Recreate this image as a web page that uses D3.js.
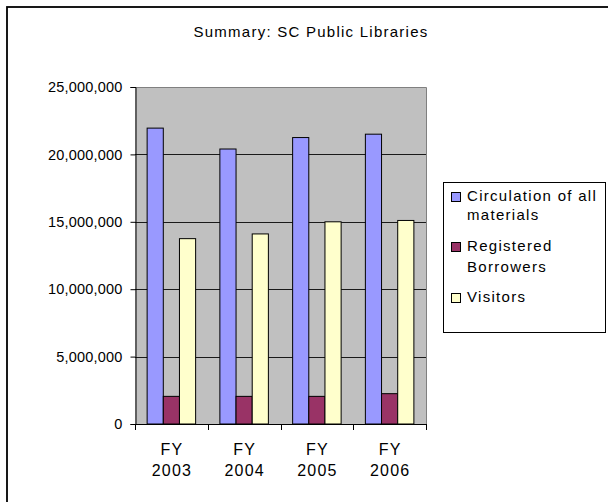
<!DOCTYPE html>
<html><head><meta charset="utf-8">
<script src="https://cdn.jsdelivr.net/npm/d3@7"></script>
<style>body{margin:0;background:#fff}svg{display:block}text{font-family:"Liberation Sans",Arial,sans-serif;fill:#000}</style>
</head><body><svg id="c" width="608" height="502"></svg>
<script>
const categories = ["FY 2003", "FY 2004", "FY 2005", "FY 2006"];
const seriesNames = ["Circulation of all materials", "Registered Borrowers", "Visitors"];
const circulation = [21950000, 20400000, 21250000, 21500000];
const borrowers = [2050000, 2050000, 2050000, 2250000];
const visitors = [13750000, 14100000, 15000000, 15100000];
const yTicks = [0, 5000000, 10000000, 15000000, 20000000, 25000000];
const colors = ["#9999FF", "#993366", "#FFFFCC"];
const legendLines = [["Circulation of all", "materials"], ["Registered", "Borrowers"], ["Visitors"]];

const series = [circulation, borrowers, visitors];
const svg = d3.select("#c");

// outer chart border (extends beyond window, cropped like the reference)
svg.append("rect").attr("x", 7).attr("y", 7).attr("width", 640).attr("height", 540)
  .attr("fill", "#fff").attr("stroke", "#000").attr("stroke-width", 1.8);

const L = 135, R = 426, T = 87, B = 424;
const x = d3.scaleBand().domain(categories).range([L, R]);
const gw = x.bandwidth();
const x1 = d3.scaleBand().domain(d3.range(3)).range([gw / 6, gw * 5 / 6]);
const y = d3.scaleLinear().domain([0, 25000000]).range([B, T]);

svg.append("rect").attr("x", L).attr("y", T).attr("width", R - L).attr("height", B - T).attr("fill", "#C0C0C0");

// gridlines
svg.append("g").selectAll("line").data(yTicks.filter(d => d > 0 && d < 25000000)).join("line")
  .attr("x1", L).attr("x2", R).attr("y1", d => Math.round(y(d)) + 0.5).attr("y2", d => Math.round(y(d)) + 0.5)
  .attr("stroke", "#1a1a1a").attr("stroke-width", 1);
// plot border top/right
svg.append("path").attr("d", `M${L},${T + 0.5}H${R + 0.5}V${B}`).attr("fill", "none").attr("stroke", "#808080");

// bars
const g = svg.append("g");
categories.forEach((c, i) => {
  series.forEach((s, j) => {
    g.append("rect")
      .attr("x", x(c) + x1(j)).attr("width", x1.bandwidth())
      .attr("y", y(s[i])).attr("height", B - y(s[i]))
      .attr("fill", colors[j]).attr("stroke", "#000").attr("stroke-width", 1);
  });
});

// y axis
const yAxis = d3.axisLeft(y).tickValues(yTicks).tickSize(5).tickPadding(8).tickFormat(d3.format(","));
const ya = svg.append("g").attr("transform", `translate(${L + 0.5},0)`).call(yAxis);
ya.select(".domain").attr("stroke", "#000");
ya.selectAll(".tick line").attr("stroke", "#000");
ya.selectAll("text").attr("font-size", 14.5).attr("letter-spacing", 0.2).attr("font-family", "Liberation Sans, Arial, sans-serif").attr("fill", "#000");

// x axis
svg.append("line").attr("x1", L).attr("x2", R + 1).attr("y1", B + 0.5).attr("y2", B + 0.5).attr("stroke", "#000");
const bounds = categories.map(c => x(c)).concat([R]);
svg.append("g").selectAll("line").data(bounds).join("line")
  .attr("x1", d => Math.round(d) + 0.5).attr("x2", d => Math.round(d) + 0.5).attr("y1", B).attr("y2", B + 6).attr("stroke", "#000");
const xl = svg.append("g").selectAll("text").data(categories).join("text")
  .attr("text-anchor", "middle").attr("font-size", 16).attr("letter-spacing", 1.2);
xl.append("tspan").attr("x", d => x(d) + gw / 2 + 0.6).attr("y", 455).text(d => d.split(" ")[0]);
xl.append("tspan").attr("x", d => x(d) + gw / 2 + 0.6).attr("y", 476).text(d => d.split(" ")[1]);

// title
svg.append("text").attr("x", 311).attr("y", 37).attr("text-anchor", "middle").attr("font-size", 15).attr("letter-spacing", 1.25)
  .text("Summary: SC Public Libraries");

// legend
svg.append("rect").attr("x", 443.5).attr("y", 182.5).attr("width", 162).attr("height", 150)
  .attr("fill", "#fff").attr("stroke", "#000");
const baselines = [[201, 220], [251, 272], [302]];
seriesNames.forEach((n, j) => {
  const b = baselines[j][0];
  svg.append("rect").attr("x", 451.5).attr("y", b - 8.5).attr("width", 9).attr("height", 9)
    .attr("fill", colors[j]).attr("stroke", "#000");
  const t = svg.append("text").attr("font-size", 15).attr("letter-spacing", 1.3);
  legendLines[j].forEach((ln, k) => t.append("tspan").attr("x", 467).attr("y", baselines[j][k]).text(ln));
});
</script></body></html>
